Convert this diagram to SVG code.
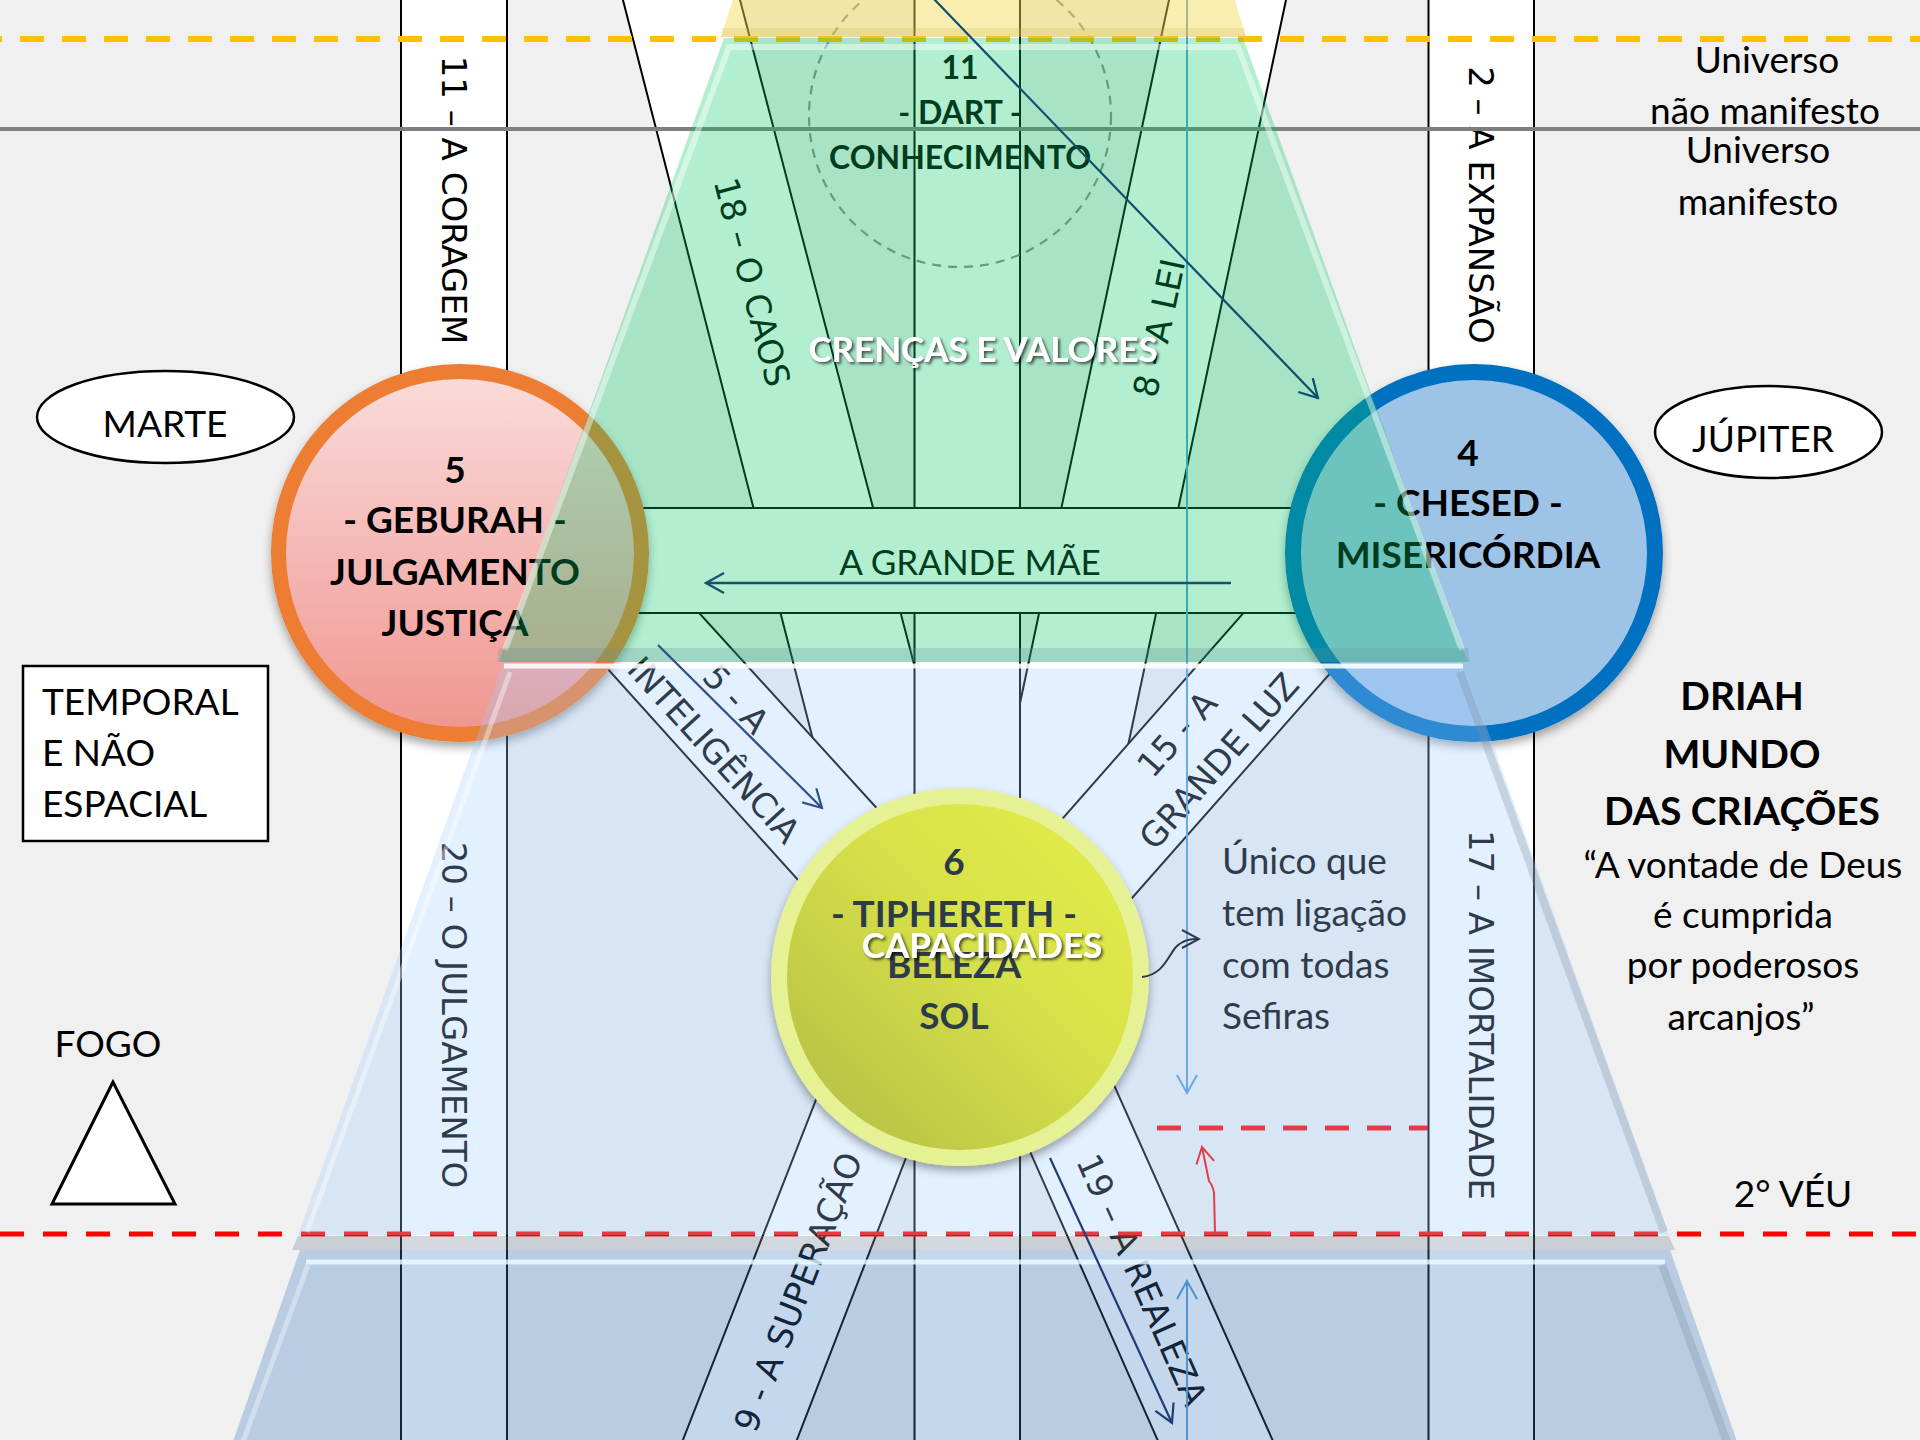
<svg xmlns="http://www.w3.org/2000/svg" width="1920" height="1440" viewBox="0 0 1920 1440">
<defs>
<style>
.band{fill:#fff;stroke:#000;stroke-width:2;stroke-linejoin:round}
.bt{font-family:"DejaVu Sans",sans-serif;font-size:34px;fill:#000;text-anchor:middle;dominant-baseline:central}
.lbl{font-family:Lato,"Open Sans",sans-serif;font-size:37px;fill:#000}
.c{text-anchor:middle}
.sef{font-family:Lato,"Open Sans",sans-serif;font-weight:bold;font-size:37px;text-anchor:middle}
.wt{font-family:Lato,"Open Sans",sans-serif;font-weight:bold;font-size:35px;fill:#fff;text-anchor:middle}
.drk{font-family:Lato,"Open Sans",sans-serif;font-weight:bold;font-size:39px;text-anchor:middle;fill:#000}
</style>
<linearGradient id="gPink" x1="0" y1="0" x2="0" y2="1"><stop offset="0" stop-color="#f9dcdb"/><stop offset="1" stop-color="#f1958f"/></linearGradient>
<linearGradient id="gYel" x1="0" y1="1" x2="1" y2="0"><stop offset="0" stop-color="#b0ba46"/><stop offset="0.6" stop-color="#d9e348"/><stop offset="1" stop-color="#e4ee4a"/></linearGradient>
<filter id="sh" x="-20%" y="-20%" width="140%" height="140%"><feDropShadow dx="0" dy="5" stdDeviation="5" flood-color="#000" flood-opacity="0.35"/></filter>
<filter id="tsh" x="-5%" y="-20%" width="110%" height="150%"><feDropShadow dx="2" dy="2" stdDeviation="1.5" flood-color="#000" flood-opacity="0.65"/></filter>
<marker id="mBlue" markerUnits="userSpaceOnUse" markerWidth="24" markerHeight="24" viewBox="0 0 24 24" refX="22" refY="12" orient="auto"><path d="M4,2 L22,12 L4,22" fill="none" stroke="#5b9bd5" stroke-width="2"/></marker>
<marker id="mRed" markerUnits="userSpaceOnUse" markerWidth="24" markerHeight="24" viewBox="0 0 24 24" refX="22" refY="12" orient="auto"><path d="M6,3 L22,12 L6,21" fill="none" stroke="#ff0000" stroke-width="2"/></marker>
<marker id="mTeal" markerUnits="userSpaceOnUse" markerWidth="24" markerHeight="24" viewBox="0 0 24 24" refX="22" refY="12" orient="auto"><path d="M4,2 L22,12 L4,22" fill="none" stroke="#0e4f6f" stroke-width="2.2"/></marker>
<marker id="mMae" markerUnits="userSpaceOnUse" markerWidth="24" markerHeight="24" viewBox="0 0 24 24" refX="22" refY="12" orient="auto"><path d="M4,2 L22,12 L4,22" fill="none" stroke="#18506e" stroke-width="2.2"/></marker>
<marker id="mB5" markerUnits="userSpaceOnUse" markerWidth="24" markerHeight="24" viewBox="0 0 24 24" refX="22" refY="12" orient="auto"><path d="M4,2 L22,12 L4,22" fill="none" stroke="#2e4f8e" stroke-width="2.2"/></marker>
<marker id="mB19" markerUnits="userSpaceOnUse" markerWidth="24" markerHeight="24" viewBox="0 0 24 24" refX="22" refY="12" orient="auto"><path d="M4,2 L22,12 L4,22" fill="none" stroke="#1f3c78" stroke-width="2.2"/></marker>
<marker id="mSlate" markerUnits="userSpaceOnUse" markerWidth="24" markerHeight="24" viewBox="0 0 24 24" refX="22" refY="12" orient="auto"><path d="M5,3 L22,12 L5,21" fill="none" stroke="#2e3a48" stroke-width="2"/></marker>
</defs>

<rect x="0" y="0" width="1920" height="1440" fill="#f0f0f0"/>

<g id="paths">
<polygon class="band" points="620.4,-10 737.4,-10 996,977 874,977"/>
<polygon class="band" points="1171.1,-10 1288.1,-10 1079,977 962,977"/>
<polygon class="band" points="1341,502 991,900 1080,957 1393,602"/>
<polygon class="band" points="600,504 903,837 863,952 542,596"/>
<polygon class="band" points="855,1000 967,1000 793,1450 679,1450"/>
<polygon class="band" points="963,1000 1076,1000 1277,1450 1162,1450"/>
<rect class="band" x="914.5" y="-10" width="105.5" height="1460"/>
<rect class="band" x="401" y="-10" width="106" height="1460"/>
<rect class="band" x="1428.5" y="-10" width="105.5" height="1460"/>
<rect class="band" x="460" y="508" width="1014" height="105"/>
</g>

<g id="path-labels">
<text class="bt" transform="translate(454,200) rotate(90)">11 – A CORAGEM</text>
<text class="bt" transform="translate(1481,205) rotate(90)">2 – A EXPANSÃO</text>
<text class="bt" transform="translate(454,1015) rotate(90)">20 – O JULGAMENTO</text>
<text class="bt" transform="translate(1481,1015) rotate(90)">17 – A IMORTALIDADE</text>
<text class="bt" transform="translate(752,282) rotate(75.4)">18 – O CAOS</text>
<text class="bt" transform="translate(1159,328) rotate(-78)">8 - A LEI</text>
<text class="bt" transform="translate(736,699) rotate(47.8)">5 - A</text>
<text class="bt" transform="translate(714,750) rotate(47.8)">INTELIGÊNCIA</text>
<text class="bt" transform="translate(1177,734) rotate(-48.6)">15 - A</text>
<text class="bt" transform="translate(1219,761) rotate(-48.6)">GRANDE LUZ</text>
<text class="bt" transform="translate(798,1292) rotate(-68.7)">9 - A SUPERAÇÃO</text>
<text class="bt" transform="translate(1142,1280) rotate(66)">19 – A REALEZA</text>
<text class="lbl c" x="970" y="575" style="font-size:35px">A GRANDE MÃE</text>
</g>

<g id="guides">
<circle cx="960" cy="116" r="151" fill="none" stroke="#8a8a8a" stroke-width="2.2" stroke-dasharray="9 7"/>
<line x1="0" y1="129" x2="1920" y2="129" stroke="#7f7f7f" stroke-width="4"/>
<line x1="0" y1="39" x2="1920" y2="39" stroke="#ffc000" stroke-width="6" stroke-dasharray="24 18" stroke-dashoffset="22"/>
<line x1="0" y1="1234" x2="1920" y2="1234" stroke="#ff0000" stroke-width="5" stroke-dasharray="24 19"/>
<line x1="1157" y1="1128" x2="1428" y2="1128" stroke="#ff0000" stroke-width="5" stroke-dasharray="24 18"/>
</g>

<g id="dart">
<text class="sef" style="font-size:32px" x="960" y="79">11</text>
<text class="sef" style="font-size:32px" x="960" y="124">- DART -</text>
<text class="sef" style="font-size:32px" x="960" y="169">CONHECIMENTO</text>
</g>

<g id="unico-text">
<text class="lbl" x="1222" y="874">Único que</text>
<text class="lbl" x="1222" y="926">tem ligação</text>
<text class="lbl" x="1222" y="978">com todas</text>
<text class="lbl" x="1222" y="1029">Sefiras</text>
</g>

<g id="connectors-under">
<line x1="1187" y1="-5" x2="1187" y2="1093" stroke="#5b9bd5" stroke-width="2" marker-end="url(#mBlue)"/>
<line x1="1187" y1="1445" x2="1187" y2="1281" stroke="#5b9bd5" stroke-width="2" marker-end="url(#mBlue)"/>
<path d="M1215,1233 L1214,1193 Q1213,1186 1209,1181 L1202,1147" fill="none" stroke="#ff0000" stroke-width="2" marker-end="url(#mRed)"/>
</g>

<g id="geburah" filter="url(#sh)">
<circle cx="460" cy="553" r="181.5" fill="url(#gPink)" stroke="#ed7d31" stroke-width="15"/>
</g>
<g id="geburah-text">
<text class="sef" x="455" y="483">5</text>
<text class="sef" x="455" y="533">- GEBURAH -</text>
<text class="sef" x="455" y="585">JULGAMENTO</text>
<text class="sef" x="455" y="636">JUSTIÇA</text>
</g>

<g id="chesed" filter="url(#sh)">
<circle cx="1474" cy="553" r="181" fill="#9dc3e6" stroke="#0070c0" stroke-width="16"/>
</g>
<g id="chesed-text">
<text class="sef" x="1468" y="466">4</text>
<text class="sef" x="1468" y="516">- CHESED -</text>
<text class="sef" x="1468" y="568">MISERICÓRDIA</text>
</g>

<g id="layers">
<polygon points="736,-10 1232,-10 1246,37 721,37" fill="#f2da4e" opacity="0.45"/>
<polygon points="722,28 1244,28 1246,37 721,37" fill="#c8b040" opacity="0.2"/>
<polygon points="724,38 1243,38 1468,662 499,662" fill="#00c864" opacity="0.3"/>
<polyline points="505,650 729,47 1238,47 1462,650" fill="none" stroke="#ffffff" stroke-opacity="0.45" stroke-width="6"/>
<polygon points="499,648 1468,648 1470,662 497,662" fill="#6a8a9a" opacity="0.25"/>
<polygon points="503,664 1464,664 1669,1235 298,1235" fill="#9fcbff" opacity="0.29"/>
<line x1="504" y1="666" x2="1463" y2="666" stroke="#ffffff" stroke-width="5" stroke-opacity="0.85"/>
<line x1="510" y1="672" x2="307" y2="1232" stroke="#ffffff" stroke-width="5" stroke-opacity="0.4"/>
<line x1="1460" y1="672" x2="1664" y2="1232" stroke="#7f8fa0" stroke-width="8" stroke-opacity="0.3"/>
<polygon points="298,1236 1669,1236 1675,1250 292,1250" fill="#8090a0" opacity="0.35"/>
<polygon points="300,1250 1670,1250 1740,1450 230,1450" fill="#3a7cc0" opacity="0.3"/>
<line x1="306" y1="1262" x2="1665" y2="1262" stroke="#eaffff" stroke-width="5" stroke-opacity="0.8"/>
<line x1="308" y1="1265" x2="240" y2="1450" stroke="#ffffff" stroke-width="5" stroke-opacity="0.35"/>
<line x1="1662" y1="1265" x2="1730" y2="1450" stroke="#7f8fa0" stroke-width="8" stroke-opacity="0.3"/>
</g>

<g id="tiphereth">
<circle cx="960" cy="977" r="181" fill="url(#gYel)" stroke="#e6f194" stroke-width="16" filter="url(#sh)"/>
<text class="sef" x="954" y="875" fill="#2d3a48">6</text>
<text class="sef" x="954" y="927" fill="#2d3a48">- TIPHERETH -</text>
<text class="sef" x="954" y="978" fill="#2d3a48">BELEZA</text>
<text class="sef" x="954" y="1029" fill="#2d3a48">SOL</text>
</g>

<g id="connectors">
<line x1="933" y1="-2" x2="1318" y2="398" stroke="#0e4f6f" stroke-width="2.2" marker-end="url(#mTeal)"/>
<line x1="1231" y1="583" x2="706" y2="583" stroke="#18506e" stroke-width="2.6" marker-end="url(#mMae)"/>
<line x1="658" y1="645" x2="822" y2="808" stroke="#2e4f8e" stroke-width="2.2" marker-end="url(#mB5)"/>
<line x1="1050" y1="1158" x2="1172" y2="1423" stroke="#1f3c78" stroke-width="2.2" marker-end="url(#mB19)"/>
<path d="M1142,977 C1163,975 1168,956 1176,947 C1183,940 1190,939 1199,939" fill="none" stroke="#2e3a48" stroke-width="2" marker-end="url(#mSlate)"/>
</g>

<g id="layer-titles" filter="url(#tsh)">
<text class="wt" x="983" y="362">CRENÇAS E VALORES</text>
<text class="wt" x="982" y="958">CAPACIDADES</text>
</g>

<g id="marte">
<ellipse cx="165.5" cy="417" rx="128.5" ry="46" fill="#fff" stroke="#000" stroke-width="2.5"/>
<text class="lbl c" x="165" y="437">MARTE</text>
</g>
<g id="jupiter">
<ellipse cx="1768.5" cy="432" rx="113.5" ry="46" fill="#fff" stroke="#000" stroke-width="2.5"/>
<text class="lbl c" x="1763" y="452">JÚPITER</text>
</g>
<g id="temporal">
<rect x="23" y="666" width="245" height="175" fill="#fff" stroke="#000" stroke-width="2.5"/>
<text class="lbl" x="42" y="715">TEMPORAL</text>
<text class="lbl" x="42" y="766">E NÃO</text>
<text class="lbl" x="42" y="817">ESPACIAL</text>
</g>
<g id="fogo">
<text class="lbl c" x="108" y="1057">FOGO</text>
<polygon points="113,1082 52,1204 175,1204" fill="#fff" stroke="#000" stroke-width="3"/>
</g>
<g id="universo">
<text class="lbl c" x="1767" y="73">Universo</text>
<text class="lbl c" x="1765" y="124">não manifesto</text>
<text class="lbl c" x="1758" y="163">Universo</text>
<text class="lbl c" x="1758" y="215">manifesto</text>
</g>
<g id="driah">
<text class="drk" x="1742" y="710">DRIAH</text>
<text class="drk" x="1742" y="768">MUNDO</text>
<text class="drk" x="1742" y="825">DAS CRIAÇÕES</text>
<text class="lbl c" x="1743" y="878">“A vontade de Deus</text>
<text class="lbl c" x="1743" y="928">é cumprida</text>
<text class="lbl c" x="1743" y="978">por poderosos</text>
<text class="lbl c" x="1741" y="1030">arcanjos”</text>
</g>
<g id="veu">
<text class="lbl c" x="1793" y="1207">2° VÉU</text>
</g>
</svg>
